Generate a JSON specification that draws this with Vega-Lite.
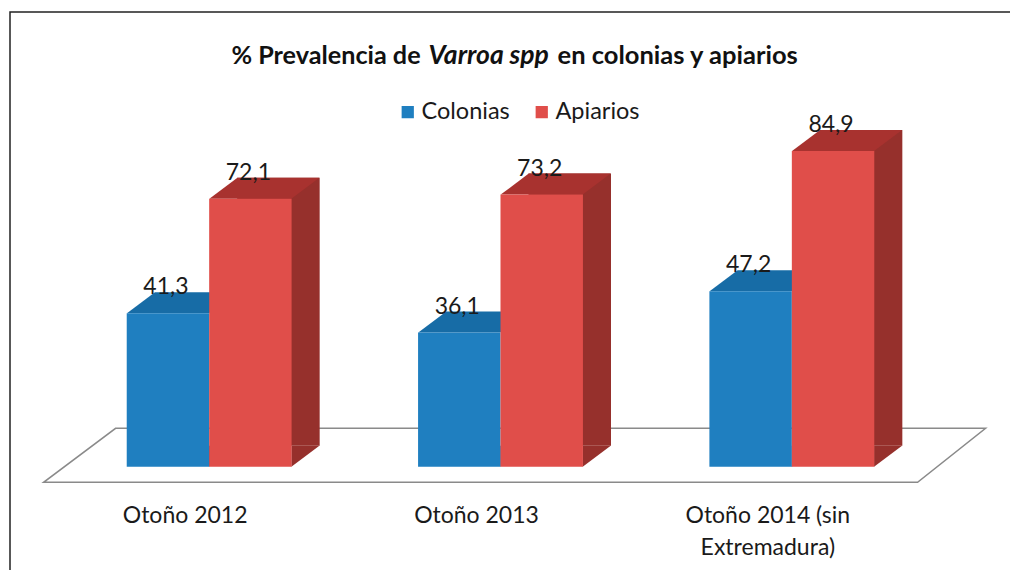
{
  "$schema": "https://vega.github.io/schema/vega-lite/v6.json",
  "width": 1001,
  "height": 559,
  "autosize": {"type": "none"},
  "padding": {"left": 10, "top": 12, "right": 0, "bottom": 0},
  "background": "white",
  "config": {
    "view": {"stroke": "#222222", "strokeWidth": 1.5},
    "font": "Lato",
    "locale": {"number": {"decimal": ",", "thousands": ".", "grouping": [3], "currency": ["", " €"]}}
  },
  "data": {"values": [
      {"period": "Otoño 2012", "serie": "Colonias", "value": 41.3},
      {"period": "Otoño 2012", "serie": "Apiarios", "value": 72.1},
      {"period": "Otoño 2013", "serie": "Colonias", "value": 36.1},
      {"period": "Otoño 2013", "serie": "Apiarios", "value": 73.2},
      {"period": "Otoño 2014 (sin Extremadura)", "serie": "Colonias", "value": 47.2},
      {"period": "Otoño 2014 (sin Extremadura)", "serie": "Apiarios", "value": 84.9}
  ]},
  "encoding": {
    "x": {
      "field": "period", "type": "nominal",
      "sort": ["Otoño 2012", "Otoño 2013", "Otoño 2014 (sin Extremadura)"],
      "scale": {"range": [53.5, 927.5], "paddingInner": 0, "paddingOuter": 0},
      "axis": {
        "title": null, "orient": "bottom", "domain": false, "ticks": false,
        "labelAngle": 0, "labelFont": "Lato", "labelFontSize": 23, "labelColor": "#1a1a1a",
        "offset": -85, "labelPadding": 18, "labelBaseline": "top", "labelLineHeight": 32, "labelOffset": -24,
        "labelExpr": "datum.label == 'Otoño 2014 (sin Extremadura)' ? ['Otoño 2014 (sin', 'Extremadura)'] : datum.label"
      }
    },
    "xOffset": {
      "field": "serie", "type": "nominal",
      "sort": ["Colonias", "Apiarios"],
      "scale": {"domain": ["Colonias", "Apiarios"], "paddingInner": 0, "paddingOuter": 0.767}
    },
    "y": {
      "field": "value", "type": "quantitative",
      "scale": {"domain": [-28, 122.3], "nice": false, "zero": false},
      "axis": null
    }
  },
  "resolve": {"scale": {"color": "independent"}},
  "layer": [
    {
      "transform": [{"filter": "datum.period == 'Otoño 2013' && datum.serie == 'Colonias'"}],
      "mark": {"type": "point", "filled": true, "fill": "white", "stroke": "#8a8a8a", "strokeWidth": 1.5, "opacity": 1,
        "shape": "M-4.57,0.155 L4.17,0.155 L4.85,-0.385 L-3.85,-0.385 Z", "size": 40000},
      "encoding": {"xOffset": {"value": 145.75}, "y": {"datum": 0}}
    },
    {
      "transform": [{"filter": "datum.serie == 'Apiarios'"}],
      "mark": {"type": "bar", "width": 82.5, "xOffset": 69.25, "yOffset": -21, "color": "#96302c"},
      "encoding": {"xOffset": null}
    },
    {
      "mark": {"type": "point", "filled": true, "opacity": 1, "shape": "M0.41,0 L0.69,-0.21 L0.41,-0.21 Z", "size": 40000},
      "encoding": {
        "y": {"datum": 0},
        "color": {"field": "serie", "type": "nominal",
          "scale": {"domain": ["Colonias", "Apiarios"], "range": ["#145f92", "#96302c"]}, "legend": null}
      }
    },
    {
      "mark": {"type": "point", "filled": true, "opacity": 1, "shape": "M-0.41,0 L0.41,0 L0.69,-0.21 L-0.13,-0.21 Z", "size": 40000},
      "encoding": {
        "color": {"field": "serie", "type": "nominal",
          "scale": {"domain": ["Colonias", "Apiarios"], "range": ["#176ca6", "#a8322f"]}, "legend": null}
      }
    },
    {
      "mark": {"type": "bar"},
      "encoding": {
        "color": {"field": "serie", "type": "nominal",
          "scale": {"domain": ["Colonias", "Apiarios"], "range": ["#1f7fc0", "#e04e4a"]},
          "legend": {
            "title": null, "orient": "none", "legendX": 386, "legendY": 88, "direction": "horizontal",
            "symbolType": "square", "symbolSize": 150, "labelFontSize": 23.5, "labelFont": "Lato", "labelColor": "#1a1a1a",
            "columnPadding": 20, "labelOffset": 2, "symbolOpacity": 1
          }
        }
      }
    },
    {
      "mark": {"type": "text", "fontSize": 23, "font": "Lato", "color": "#1a1a1a", "dy": -26, "dx": -2, "baseline": "middle"},
      "encoding": {"text": {"field": "value", "type": "quantitative", "format": ".1f"}}
    },
    {
      "transform": [{"filter": "datum.period == 'Otoño 2013' && datum.serie == 'Colonias'"}],
      "mark": {"type": "text", "text": "% Prevalencia de", "font": "Lato", "fontWeight": "bold", "fontSize": 25.2, "color": "#111111", "align": "right", "dx": -80, "baseline": "middle"},
      "encoding": {"xOffset": {"value": 145.75}, "y": {"datum": 110.5}}
    },
    {
      "transform": [{"filter": "datum.period == 'Otoño 2013' && datum.serie == 'Colonias'"}],
      "mark": {"type": "text", "text": "Varroa spp", "font": "Lato", "fontWeight": "bold", "fontStyle": "italic", "fontSize": 26.5, "color": "#111111", "align": "left", "dx": -72, "baseline": "middle"},
      "encoding": {"xOffset": {"value": 145.75}, "y": {"datum": 110.5}}
    },
    {
      "transform": [{"filter": "datum.period == 'Otoño 2013' && datum.serie == 'Colonias'"}],
      "mark": {"type": "text", "text": "en colonias y apiarios", "font": "Lato", "fontWeight": "bold", "fontSize": 25.5, "color": "#111111", "align": "left", "dx": 57, "baseline": "middle"},
      "encoding": {"xOffset": {"value": 145.75}, "y": {"datum": 110.5}}
    }
  ]
}
